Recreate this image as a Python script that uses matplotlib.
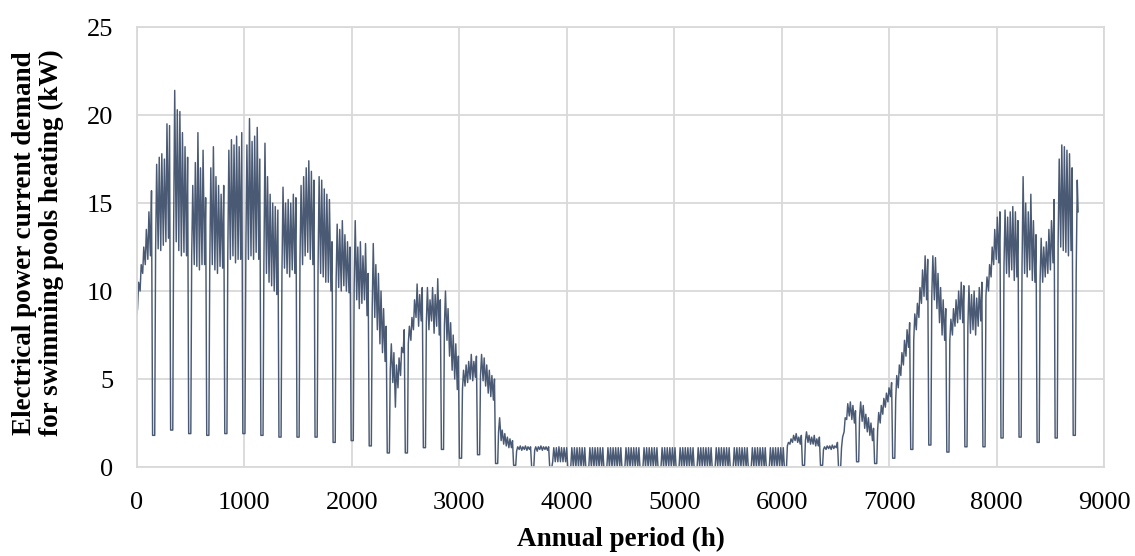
import matplotlib
matplotlib.use("Agg")
import matplotlib.pyplot as plt
import numpy as np

# ---- data (kW) ----
# each week: six working days (daily peak / daily low) followed by one low "dip" day
week_peaks = [
    [10.5, 11.5, 12.5, 13.5, 14.5, 15.7],   # W0
    [17.2, 17.6, 17.8, 17.5, 19.5, 19.4],
    [21.4, 20.3, 20.2, 19.0, 18.2, 17.6],
    [16.0, 17.3, 19.0, 17.0, 18.0, 15.3],
    [17.0, 18.2, 16.5, 16.0, 15.5, 16.0],
    [18.0, 18.6, 18.3, 18.8, 18.2, 19.0],
    [18.3, 19.8, 18.5, 18.8, 19.3, 17.5],
    [18.4, 16.5, 15.5, 15.0, 14.8, 14.6],
    [15.9, 15.0, 15.2, 15.0, 15.5, 15.3],
    [16.0, 16.5, 17.0, 17.4, 16.8, 16.3],
    [16.5, 16.3, 15.8, 15.5, 15.2, 12.8],   # W10
    [13.8, 13.5, 14.0, 13.2, 12.8, 12.5],
    [14.0, 12.5, 12.8, 12.0, 12.7, 11.0],
    [12.7, 11.5, 11.0, 10.0, 9.0, 8.0],
    [7.0, 6.5, 5.8, 6.2, 6.8, 7.8],
    [8.0, 8.5, 9.5, 10.4, 9.8, 10.2],
    [10.2, 9.5, 10.2, 9.8, 10.7, 9.5],
    [10.0, 9.0, 8.2, 7.5, 7.0, 6.3],
    [5.5, 5.8, 6.0, 6.4, 6.0, 6.3],
    [6.4, 6.2, 5.8, 5.5, 5.2, 5.0],
    [2.8, 2.1, 1.9, 1.7, 1.6, 1.5],         # W20
    [1.15, 1.2, 1.15, 1.2, 1.15, 1.15],
    [1.15, 1.15, 1.2, 1.15, 1.15, 1.15],
    [1.1, 1.1, 1.15, 1.1, 1.1, 1.1],
    [1.1, 1.1, 1.1, 1.1, 1.1, 1.1],
    [1.1, 1.1, 1.1, 1.1, 1.1, 1.1],
    [1.1, 1.1, 1.1, 1.1, 1.1, 1.1],
    [1.1, 1.1, 1.1, 1.1, 1.1, 1.1],
    [1.1, 1.1, 1.1, 1.1, 1.1, 1.1],
    [1.1, 1.1, 1.1, 1.1, 1.1, 1.1],
    [1.1, 1.1, 1.1, 1.1, 1.1, 1.1],         # W30
    [1.1, 1.1, 1.1, 1.1, 1.1, 1.1],
    [1.1, 1.1, 1.1, 1.1, 1.1, 1.1],
    [1.1, 1.1, 1.1, 1.1, 1.1, 1.1],
    [1.1, 1.1, 1.1, 1.1, 1.1, 1.1],
    [1.1, 1.1, 1.1, 1.1, 1.1, 1.1],
    [1.4, 1.6, 1.8, 1.9, 1.7, 1.8],
    [2.0, 1.8, 1.7, 1.8, 1.6, 1.7],
    [1.15, 1.2, 1.2, 1.25, 1.2, 1.4],
    [1.7, 2.8, 3.6, 3.7, 3.5, 3.2],
    [3.7, 3.5, 3.0, 2.8, 2.5, 2.2],         # W40
    [3.1, 3.5, 3.9, 4.2, 4.5, 4.8],
    [5.2, 5.8, 6.5, 7.2, 7.8, 8.2],
    [8.7, 9.3, 10.2, 11.2, 12.0, 11.8],
    [12.0, 11.9, 11.0, 10.2, 9.5, 9.0],
    [8.4, 9.0, 9.5, 10.0, 10.5, 10.3],
    [10.3, 9.8, 10.0, 9.6, 10.2, 10.5],
    [10.8, 11.5, 12.5, 13.5, 14.2, 14.5],
    [14.6, 14.2, 14.5, 14.8, 14.5, 14.0],
    [16.5, 15.0, 14.5, 15.5, 14.0, 13.2],
    [13.0, 12.5, 12.8, 13.5, 14.0, 15.2],   # W50
    [17.5, 18.3, 18.2, 18.0, 17.8, 17.0],
]
week_lows = [
    [9.0, 10.0, 11.0, 11.5, 11.8, 12.0],
    [12.2, 12.4, 12.3, 12.6, 12.8, 13.0],
    [13.5, 12.8, 12.3, 12.0, 12.2, 12.0],
    [12.0, 11.5, 11.4, 11.2, 11.5, 11.5],
    [11.2, 11.5, 11.2, 11.0, 11.4, 11.3],
    [12.0, 11.8, 12.0, 11.6, 11.8, 11.8],
    [12.2, 11.8, 12.0, 11.8, 12.2, 11.8],
    [11.5, 11.0, 10.5, 10.3, 10.0, 9.8],
    [11.0, 11.3, 11.0, 10.8, 11.2, 11.0],
    [11.8, 11.5, 12.0, 12.2, 11.8, 11.5],
    [11.2, 11.0, 10.8, 10.5, 10.5, 10.0],
    [10.5, 10.2, 10.0, 10.3, 10.0, 9.9],
    [10.2, 9.5, 9.0, 9.3, 9.5, 8.6],
    [9.0, 8.5, 7.8, 7.0, 6.5, 6.0],
    [5.5, 4.8, 3.4, 4.5, 5.2, 6.5],
    [7.0, 7.2, 7.8, 8.5, 8.0, 8.3],
    [8.2, 7.8, 8.3, 7.6, 8.0, 7.5],
    [8.0, 7.2, 6.3, 5.5, 5.0, 4.4],
    [4.4, 4.6, 4.8, 5.0, 4.9, 5.1],
    [5.2, 4.9, 4.6, 4.2, 4.0, 3.8],
    [2.0, 1.5, 1.3, 1.2, 1.1, 1.1],
    [0.9, 1.0, 0.95, 1.0, 0.95, 1.0],
    [0.95, 0.9, 1.0, 0.95, 1.0, 0.95],
    [0.3, 0.3, 0.3, 0.3, 0.3, 0.3],
    [0.0, 0.0, 0.0, 0.0, 0.0, 0.0],
    [0.0, 0.0, 0.0, 0.0, 0.0, 0.0],
    [0.0, 0.0, 0.0, 0.0, 0.0, 0.0],
    [0.0, 0.0, 0.0, 0.0, 0.0, 0.0],
    [0.0, 0.0, 0.0, 0.0, 0.0, 0.0],
    [0.0, 0.0, 0.0, 0.0, 0.0, 0.0],
    [0.0, 0.0, 0.0, 0.0, 0.0, 0.0],
    [0.0, 0.0, 0.0, 0.0, 0.0, 0.0],
    [0.0, 0.0, 0.0, 0.0, 0.0, 0.0],
    [0.0, 0.0, 0.0, 0.0, 0.0, 0.0],
    [0.0, 0.0, 0.0, 0.0, 0.0, 0.0],
    [0.0, 0.0, 0.0, 0.0, 0.0, 0.0],
    [1.2, 1.3, 1.4, 1.5, 1.4, 1.3],
    [1.5, 1.4, 1.3, 1.3, 1.2, 1.2],
    [1.0, 1.0, 1.05, 1.0, 1.05, 1.1],
    [1.1, 2.0, 2.7, 2.9, 2.7, 2.5],
    [2.8, 2.6, 2.2, 2.0, 1.8, 1.5],
    [2.1, 2.5, 3.0, 3.4, 3.7, 4.0],
    [3.8, 4.5, 5.2, 5.8, 6.3, 6.8],
    [7.2, 7.8, 8.5, 9.3, 9.7, 9.5],
    [9.7, 9.5, 9.0, 8.2, 7.5, 7.2],
    [7.2, 7.5, 8.0, 8.2, 8.4, 8.2],
    [8.0, 7.6, 7.8, 7.5, 8.0, 8.3],
    [9.7, 10.0, 10.8, 11.5, 11.8, 11.6],
    [11.4, 11.0, 10.8, 11.2, 10.6, 10.8],
    [11.4, 11.0, 10.8, 11.2, 10.6, 10.5],
    [10.6, 10.5, 10.8, 11.0, 11.2, 11.6],
    [12.8, 12.5, 12.3, 12.2, 12.0, 12.3],
]
week_dips = [1.8, 2.1, 1.9, 1.8, 1.9, 1.9, 1.8, 1.7, 1.7, 1.7,
             1.4, 1.5, 1.2, 0.8, 0.8, 1.1, 1.0, 0.5, 0.7, 0.2,
             0.1, 0.0, 0.0, 0.0, 0.0, 0.0, 0.0, 0.0, 0.0, 0.0,
             0.0, 0.0, 0.0, 0.0, 0.0, 0.0, 0.1, 0.1, 0.0, 0.3,
             0.2, 0.5, 1.0, 1.25, 0.85, 1.15, 1.15, 1.65, 1.7, 1.4,
             1.65, 1.8]
start_value = 8.7          # hour 0
last_day_low = 11.0        # hours 8736-8760
last_day_peak = 16.3
end_value = 14.5           # hour 8759

x_ticks = [0, 1000, 2000, 3000, 4000, 5000, 6000, 7000, 8000, 9000]
y_ticks = [0, 5, 10, 15, 20, 25]

# ---- assemble daily sequence ----
daily_low, daily_peak, is_dip = [], [], []
for pk, lo, dp in zip(week_peaks, week_lows, week_dips):
    daily_peak += pk + [dp]
    daily_low += lo + [dp]
    is_dip += [False] * 6 + [True]
daily_peak.append(last_day_peak)
daily_low.append(last_day_low)
is_dip.append(False)

hours = [0]
vals = [start_value]
for d, (lo, pk, dip) in enumerate(zip(daily_low, daily_peak, is_dip)):
    if dip:
        hours += [24 * d + 1, 24 * d + 21]
    else:
        hours += [24 * d + 5, 24 * d + 15]
    vals += [lo, pk]
hours.append(8759)
vals.append(end_value)

# ---- figure ----
plt.rcParams['font.family'] = ['Liberation Serif', 'DejaVu Serif']
fig = plt.figure(figsize=(11.35, 5.56), dpi=100)
ax = fig.add_axes([0.1207, 0.160, 0.852, 0.7914])

ax.plot(hours, vals, color='#4a5a74', linewidth=1.05)

ax.set_xlim(0, 9000)
ax.set_ylim(0, 25)
ax.set_xticks(x_ticks)
ax.set_yticks(y_ticks)
ax.tick_params(axis='x', length=0, labelsize=19, labelcolor='black', pad=18)
ax.tick_params(axis='y', length=0, labelsize=19, labelcolor='black', pad=17)
ax.grid(True, color='#d9d9d9', linewidth=1.3)
ax.set_axisbelow(True)
for s in ax.spines.values():
    s.set_color('#d9d9d9')
    s.set_linewidth(1.3)

fig.text(621 / 1135, 1 - 539 / 556, 'Annual period (h)', fontsize=19.5,
         fontweight='bold', ha='center', va='center')
fig.text(38 / 1135, 1 - 243 / 556,
         'Electrical power current demand\nfor swimming pools heating (kW)',
         fontsize=19.5, fontweight='bold', rotation=90, ha='center',
         va='center', linespacing=1.12, multialignment='center')

fig.savefig('out.png', dpi=100, facecolor='white')
